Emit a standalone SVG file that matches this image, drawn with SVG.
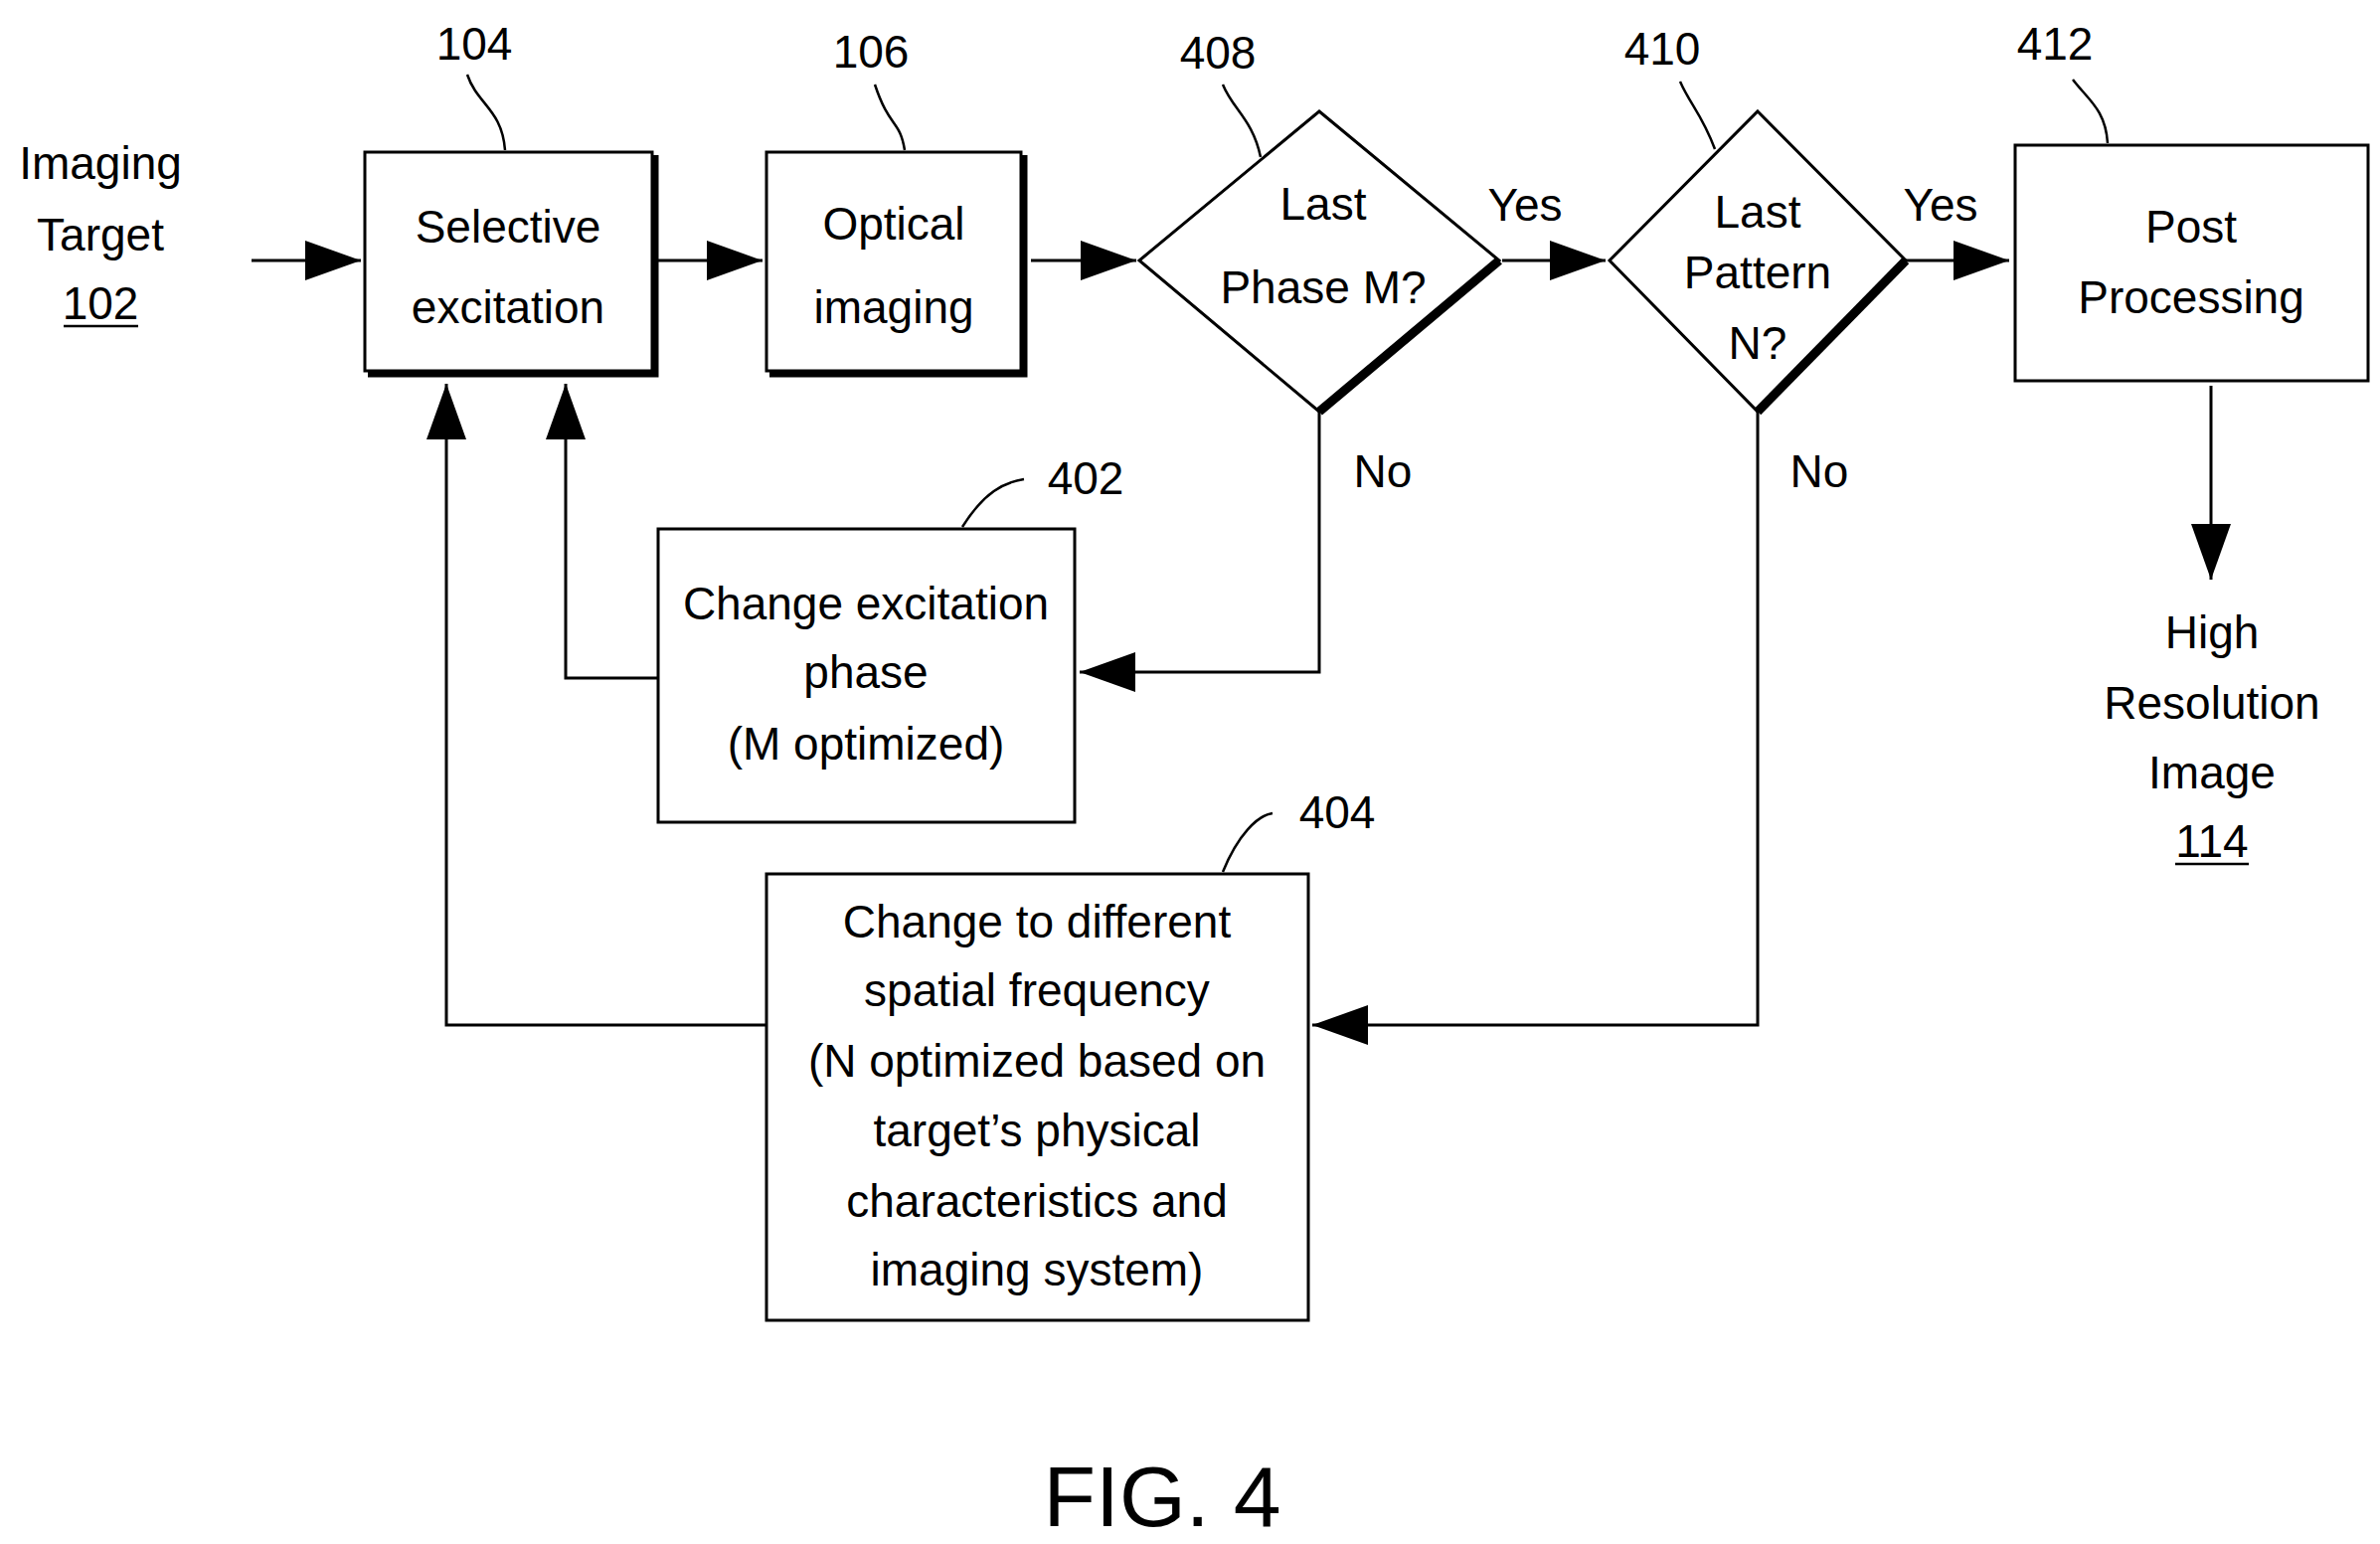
<svg xmlns="http://www.w3.org/2000/svg" width="2394" height="1553" viewBox="0 0 2394 1553">
<style>
text{font-family:"Liberation Sans",Arial,sans-serif;font-size:46px;fill:#000;text-anchor:middle}
.b{fill:#fff;stroke:#000;stroke-width:3}
.sh{fill:none;stroke:#000;stroke-width:7}
.c{fill:none;stroke:#000;stroke-width:3}
.l{fill:none;stroke:#000;stroke-width:2.5}
</style>
<defs>
<marker id="a" markerUnits="userSpaceOnUse" markerWidth="56" markerHeight="40" refX="56" refY="20" orient="auto"><path d="M0,0L56,20L0,40z" fill="#000"/></marker>
</defs>
<rect width="2394" height="1553" fill="#fff"/>
<g id="connectors">
<line class="c" x1="253" y1="262" x2="363" y2="262" marker-end="url(#a)"/>
<line class="c" x1="659" y1="262" x2="767" y2="262" marker-end="url(#a)"/>
<line class="c" x1="1037" y1="262" x2="1143" y2="262" marker-end="url(#a)"/>
<line class="c" x1="1511" y1="262" x2="1615" y2="262" marker-end="url(#a)"/>
<line class="c" x1="1917" y1="262" x2="2021" y2="262" marker-end="url(#a)"/>
<line class="c" x1="2224" y1="388" x2="2224" y2="583" marker-end="url(#a)"/>
<polyline class="c" points="1327,414 1327,676 1086,676" marker-end="url(#a)"/>
<polyline class="c" points="662,682 569,682 569,386" marker-end="url(#a)"/>
<polyline class="c" points="1768,414 1768,1031 1320,1031" marker-end="url(#a)"/>
<polyline class="c" points="771,1031 449,1031 449,386" marker-end="url(#a)"/>
<text x="1534" y="222">Yes</text>
<text x="1952" y="222">Yes</text>
<text x="1391" y="490">No</text>
<text x="1830" y="490">No</text>
</g>
<g id="n102"><text x="101" y="180">Imaging</text><text x="101" y="252">Target</text><text x="101" y="321">102</text><line class="l" x1="64" y1="328" x2="139" y2="328"/></g>
<g id="n104"><rect class="b" x="367" y="153" width="289" height="220"/><polyline class="sh" points="659,156 659,376 370,376"/><text x="511" y="244">Selective</text><text x="511" y="325">excitation</text>
<text x="477" y="60">104</text><path class="l" d="M508,151 C505,110 480,105 470,75"/></g>
<g id="n106"><rect class="b" x="771" y="153" width="256" height="220"/><polyline class="sh" points="1030,156 1030,376 774,376"/><text x="899" y="241">Optical</text><text x="899" y="325">imaging</text>
<text x="876" y="68">106</text><path class="l" d="M910,151 C905,120 895,130 880,85"/></g>
<g id="n408"><polygon class="b" points="1327,112 1508,262 1327,414 1146,262"/><line stroke="#000" stroke-width="9" x1="1508" y1="262" x2="1327" y2="414"/><text x="1331" y="221">Last</text><text x="1331" y="305">Phase M?</text>
<text x="1225" y="69">408</text><path class="l" d="M1268,158 C1260,120 1240,110 1230,85"/></g>
<g id="n410"><polygon class="b" points="1768,112 1917,262 1768,414 1619,262"/><line stroke="#000" stroke-width="9" x1="1917" y1="262" x2="1768" y2="414"/><text x="1768" y="229">Last</text><text x="1768" y="290">Pattern</text><text x="1768" y="361">N?</text>
<text x="1672" y="65">410</text><path class="l" d="M1725,150 C1712,115 1700,105 1690,82"/></g>
<g id="n412"><rect class="b" x="2027" y="146" width="355" height="237"/><text x="2204" y="244">Post</text><text x="2204" y="315">Processing</text>
<text x="2067" y="60">412</text><path class="l" d="M2120,144 C2118,110 2100,100 2085,80"/></g>
<g id="n114"><text x="2225" y="652">High</text><text x="2225" y="723">Resolution</text><text x="2225" y="793">Image</text><text x="2225" y="862">114</text><line class="l" x1="2188" y1="869" x2="2262" y2="869"/></g>
<g id="n402"><rect class="b" x="662" y="532" width="419" height="295"/><text x="871" y="623">Change excitation</text><text x="871" y="692">phase</text><text x="871" y="764">(M optimized)</text>
<text x="1092" y="497">402</text><path class="l" d="M968,530 C990,495 1010,485 1030,482"/></g>
<g id="n404"><rect class="b" x="771" y="879" width="545" height="449"/><text x="1043" y="943">Change to different</text><text x="1043" y="1012">spatial frequency</text><text x="1043" y="1083">(N optimized based on</text><text x="1043" y="1153">target’s physical</text><text x="1043" y="1224">characteristics and</text><text x="1043" y="1293">imaging system)</text>
<text x="1345" y="833">404</text><path class="l" d="M1230,877 C1245,840 1265,820 1280,818"/></g>
<text x="1169" y="1535" style="font-size:86px">FIG. 4</text>
</svg>
